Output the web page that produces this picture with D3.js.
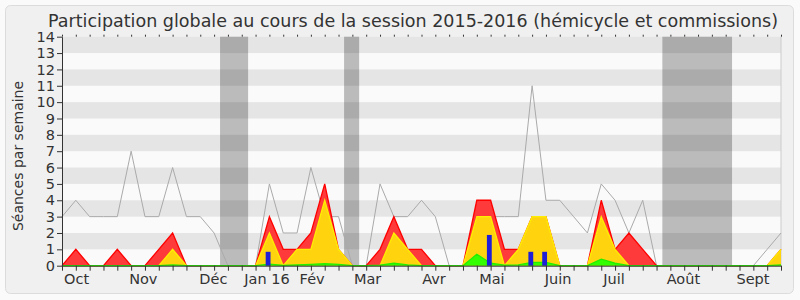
<!DOCTYPE html>
<html>
<head>
<meta charset="utf-8">
<script src="https://cdn.jsdelivr.net/npm/d3@7"></script>
<style>
  body { margin: 0; background: #fafafa; }
  svg { display: block; font-family: "DejaVu Sans", sans-serif; }
</style>
</head>
<body>
<svg id="chart" width="800" height="300"></svg>
<script>
// one value per week, week 0 = start of october 2015
var weeks = d3.range(53);
var mediane = [3,4,3,3,3,7,3,3,6,3,3,2,0,0,0,5,2,2,6,3,3,0,0,5,3,3,4,3,0,0,3,3,3,3,11,4,4,3,2,5,4,2,4,0,0,0,0,0,0,0,0,1,2];
var presences = [0,1,0,0,1,0,0,1,2,0,0,0,0,0,0,3,1,1,2,5,1,0,0,1,3,1,1,0,0,0,4,4,1,1,3,3,0,0,0,4,1,2,1,0,0,0,0,0,0,0,0,0,1];
var commissions = [0,0,0,0,0,0,0,0,1,0,0,0,0,0,0,2,0,1,1,4,1,0,0,0,2,1,0,0,0,0,3,3,0,1,3,3,0,0,0,3,1,0,0,0,0,0,0,0,0,0,0,0,1];
var hemicycle = [0,0,0,0,0,0,0,0,0.05,0,0,0,0,0,0,0.1,0.02,0.05,0.08,0.12,0.08,0,0,0.03,0.15,0.05,0,0,0,0,0.7,0.15,0.03,0.05,0.2,0.2,0,0,0,0.4,0.15,0,0,0,0,0,0,0,0,0,0,0,0.05];
var questionWeeks = [15, 31, 34, 35];
var questions = [0.85, 1.88, 0.85, 0.85];
var vacances = [[11.43, 13.46], [20.4, 21.49], [43.42, 48.46]];
var mois = ["Oct", "Nov", "Déc", "Jan 16", "Fév", "Mar", "Avr", "Mai", "Juin", "Juil", "Août", "Sept"];
var moisPos = [1.06, 5.88, 10.95, 14.83, 18.09, 22.1, 26.9, 31.09, 35.88, 39.93, 44.94, 49.97];

var svg = d3.select("#chart");

var x = d3.scaleLinear().domain([0, 52]).range([62, 781]);
var y = d3.scaleLinear().domain([0, 14]).range([265.7, 36.7]);

// frame
svg.append("rect")
  .attr("x", 5.5).attr("y", 5.5).attr("width", 788).attr("height", 288).attr("rx", 5)
  .attr("fill", "#f0f0f0").attr("stroke", "#dcdcdc");

svg.append("text")
  .attr("x", 413).attr("y", 27)
  .attr("text-anchor", "middle")
  .attr("font-size", 18)
  .attr("fill", "#333")
  .attr("textLength", 730).attr("lengthAdjust", "spacingAndGlyphs")
  .text("Participation globale au cours de la session 2015-2016 (hémicycle et commissions)");

svg.append("text")
  .attr("transform", "translate(23,156) rotate(-90)")
  .attr("text-anchor", "middle")
  .attr("font-size", 14)
  .attr("fill", "#333")
  .text("Séances par semaine");

// background stripes
svg.append("rect")
  .attr("x", x(0)).attr("y", y(14))
  .attr("width", x(52) - x(0)).attr("height", y(0) - y(14))
  .attr("fill", "#fafafa");

svg.append("g").selectAll("rect")
  .data(d3.range(1, 14, 2))
  .enter().append("rect")
  .attr("x", x(0))
  .attr("y", function(d){ return y(d + 1); })
  .attr("width", x(52) - x(0))
  .attr("height", function(d){ return y(d) - y(d + 1); })
  .attr("fill", "#e5e5e5");

svg.append("g").selectAll("rect")
  .data(vacances)
  .enter().append("rect")
  .attr("x", function(d){ return x(d[0]); })
  .attr("y", y(14))
  .attr("width", function(d){ return x(d[1]) - x(d[0]); })
  .attr("height", y(0) - y(14))
  .attr("fill", "#000").attr("fill-opacity", 0.25);

svg.append("line")
  .attr("x1", x(52)).attr("x2", x(52)).attr("y1", y(14)).attr("y2", y(0))
  .attr("stroke", "#ccc");

// median line
var line = d3.line()
  .x(function(d, i){ return x(weeks[i]); })
  .y(function(d){ return y(d); });

svg.append("path")
  .datum(mediane)
  .attr("d", line)
  .attr("fill", "none")
  .attr("stroke", "#aaa")
  .attr("stroke-width", 1);

var area = d3.area()
  .x(function(d, i){ return x(weeks[i]); })
  .y0(y(0))
  .y1(function(d){ return y(d); });

function drawSerie(values, fill, stroke){
  svg.append("path").datum(values)
    .attr("d", area)
    .attr("fill", fill);
  svg.append("path").datum(values)
    .attr("d", line)
    .attr("fill", "none")
    .attr("stroke", stroke)
    .attr("stroke-width", 1.3);
}

drawSerie(presences, "#ff3a3a", "#ff0000");
drawSerie(commissions, "#ffd40f", "#ffee00");
drawSerie(hemicycle, "#33ff00", "#22ee00");

svg.append("g").selectAll("rect")
  .data(questions)
  .enter().append("rect")
  .attr("x", function(d, i){ return x(questionWeeks[i] - 0.27); })
  .attr("y", function(d){ return y(d); })
  .attr("width", x(0.35) - x(0))
  .attr("height", function(d){ return y(0) - y(d); })
  .attr("fill", "#1f1fd8");

// axes
var yAxis = svg.append("g")
  .attr("transform", "translate(" + x(0) + ",0)")
  .call(d3.axisLeft(y).ticks(14).tickSize(5).tickSizeOuter(0).tickPadding(2));
yAxis.selectAll("text").attr("font-size", 14.5).attr("fill", "#333").attr("font-family", "DejaVu Sans");

var xAxis = svg.append("g")
  .attr("transform", "translate(0," + y(0) + ")")
  .call(d3.axisBottom(x).tickValues(weeks).tickSize(5).tickSizeOuter(0).tickFormat(""));

var topAxis = svg.append("g")
  .attr("transform", "translate(0," + y(14) + ")")
  .call(d3.axisTop(x).tickValues(weeks).tickSize(2).tickFormat(""));
topAxis.select(".domain").remove();

svg.selectAll(".domain, .tick line").attr("stroke", "#333");

svg.append("g").selectAll("text")
  .data(mois)
  .enter().append("text")
  .attr("x", function(d, i){ return x(moisPos[i]); })
  .attr("y", 283.5)
  .attr("text-anchor", "middle")
  .attr("font-size", 14.5)
  .attr("fill", "#333")
  .text(function(d){ return d; });
</script>
</body>
</html>
